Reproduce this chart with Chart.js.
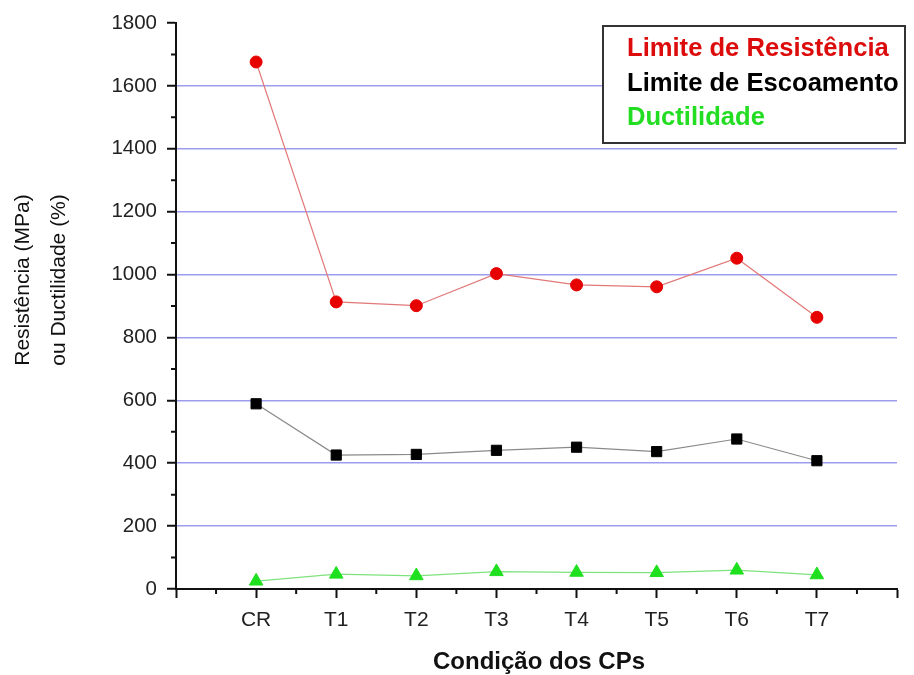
<!DOCTYPE html>
<html>
<head>
<meta charset="utf-8">
<script src="https://cdn.jsdelivr.net/npm/chart.js@4"></script>
<style>
html,body{margin:0;padding:0;background:#fff;}
#wrap{width:914px;height:675px;position:relative;}
</style>
</head>
<body>
<div id="wrap"><canvas id="c" width="914" height="675"></canvas></div>
<script>
const categories = ['CR', 'T1', 'T2', 'T3', 'T4', 'T5', 'T6', 'T7'];
const resistencia = [1676, 913, 901, 1003, 967, 961, 1052, 864];
const escoamento = [589, 426, 428, 441, 451, 437, 477, 408];
const ductilidade = [25, 47, 42, 55, 53, 52, 60, 45];
const yTicks = [0, 200, 400, 600, 800, 1000, 1200, 1400, 1600, 1800];
const seriesLabels = ['Limite de Resistência', 'Limite de Escoamento', 'Ductilidade'];
const xTitle = 'Condição dos CPs';
const yTitle = ['Resistência (MPa)', 'ou Ductilidade (%)'];

const FONT = '"Liberation Sans", Arial, sans-serif';
const legendColors = ['#dd0c0c', '#000000', '#22dd22'];

function toPts(arr){ return arr.map((v,i)=>({x:i+1, y:v})); }

const extras = {
  id: 'extras',
  afterDraw(chart){
    const ctx = chart.ctx;
    const xs = chart.scales.x, ys = chart.scales.y;
    const ca = chart.chartArea;
    ctx.save();
    // minor ticks
    ctx.strokeStyle = '#111';
    ctx.lineWidth = 2;
    ctx.beginPath();
    for (let i = 0; i < categories.length + 1; i++) {
      const px = xs.getPixelForValue(i + 0.5);
      ctx.moveTo(px, ca.bottom);
      ctx.lineTo(px, ca.bottom + 5);
    }
    for (let i = 0; i < yTicks.length - 1; i++) {
      const py = ys.getPixelForValue((yTicks[i] + yTicks[i+1]) / 2);
      ctx.moveTo(ca.left, py);
      ctx.lineTo(ca.left - 5, py);
    }
    ctx.stroke();
    // legend box
    const bx = 603, by = 26, bw = 302, bh = 117;
    ctx.fillStyle = '#fff';
    ctx.fillRect(bx, by, bw, bh);
    ctx.strokeStyle = '#333';
    ctx.lineWidth = 2;
    ctx.strokeRect(bx, by, bw, bh);
    ctx.font = 'bold 25.6px ' + FONT;
    ctx.textBaseline = 'middle';
    ctx.textAlign = 'left';
    const ly = [49, 84, 118];
    seriesLabels.forEach((t, i) => {
      ctx.fillStyle = legendColors[i];
      ctx.fillText(t, 627, ly[i]);
    });
    // axis titles
    ctx.fillStyle = '#111';
    ctx.font = 'bold 24px ' + FONT;
    ctx.textAlign = 'center';
    ctx.fillText(xTitle, 539, 662);
    ctx.font = '21px ' + FONT;
    [23, 59].forEach((cx, i) => {
      ctx.save();
      ctx.translate(cx, 280);
      ctx.rotate(-Math.PI / 2);
      ctx.fillText(yTitle[i], 0, 0);
      ctx.restore();
    });
    ctx.restore();
  }
};

new Chart(document.getElementById('c'), {
  type: 'line',
  data: {
    datasets: [
      {
        label: seriesLabels[0],
        data: toPts(resistencia),
        borderColor: '#e27878',
        borderWidth: 1.2,
        pointStyle: 'circle',
        pointRadius: 6,
        pointBackgroundColor: '#e60000',
        pointBorderColor: '#e60000',
        pointBorderWidth: 1
      },
      {
        label: seriesLabels[1],
        data: toPts(escoamento),
        borderColor: '#8a8a8a',
        borderWidth: 1.2,
        pointStyle: 'rect',
        pointRadius: 7.2,
        pointBackgroundColor: '#000',
        pointBorderColor: '#000',
        pointBorderWidth: 1
      },
      {
        label: seriesLabels[2],
        data: toPts(ductilidade),
        borderColor: '#7ee27e',
        borderWidth: 1.2,
        pointStyle: 'triangle',
        pointRadius: 7.8,
        pointBackgroundColor: '#1ee01e',
        pointBorderColor: '#1ee01e',
        pointBorderWidth: 1
      }
    ]
  },
  options: {
    responsive: false,
    animation: false,
    layout: { padding: { top: 23, right: 17, left: 0, bottom: 0 } },
    plugins: { legend: { display: false }, tooltip: { enabled: false } },
    scales: {
      x: {
        type: 'linear',
        min: 0,
        max: categories.length + 1,
        afterFit(s){ s.height = 86; },
        afterBuildTicks(s){ s.ticks = []; for (let i = 0; i <= categories.length + 1; i++) s.ticks.push({value: i}); },
        ticks: {
          autoSkip: false,
          maxRotation: 0,
          padding: 10,
          color: '#222',
          font: { family: FONT, size: 21 },
          callback: (v) => (v >= 1 && v <= categories.length) ? categories[v - 1] : ''
        },
        grid: {
          drawOnChartArea: false,
          drawTicks: true,
          tickLength: 9,
          tickColor: '#111',
          tickWidth: 2
        },
        border: { display: true, color: '#111', width: 2 }
      },
      y: {
        min: 0,
        max: 1800,
        afterFit(s){ s.width = 176; },
        afterBuildTicks(s){ s.ticks = yTicks.map(v => ({value: v})); },
        ticks: {
          padding: 10,
          color: '#222',
          font: { family: FONT, size: 20.5 },
          callback: (v) => String(v)
        },
        grid: {
          color: (c) => (c.tick && c.tick.value > 0 && c.tick.value < 1800) ? '#9d9df0' : 'rgba(0,0,0,0)',
          lineWidth: 1.5,
          drawTicks: true,
          tickLength: 9,
          tickColor: '#111',
          tickWidth: 2
        },
        border: { display: true, color: '#111', width: 2 }
      }
    }
  },
  plugins: [extras]
});
</script>
</body>
</html>
